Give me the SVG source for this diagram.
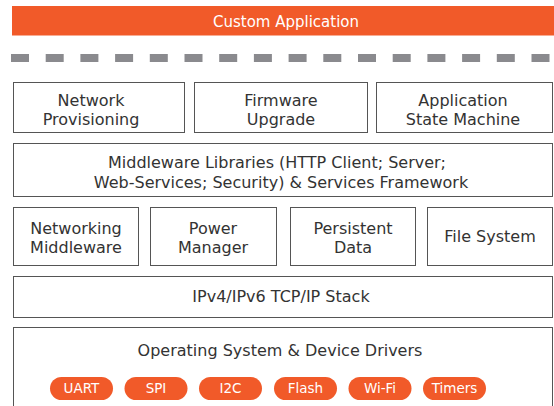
<svg xmlns="http://www.w3.org/2000/svg" width="554" height="406" viewBox="0 0 554 406">
<defs>
<style>
.box{fill:#fff;stroke:#555;stroke-width:1}
.t{font-family:"DejaVu Sans",Verdana,sans-serif;font-size:16px;fill:#333;text-anchor:middle}
.w{font-family:"DejaVu Sans",Verdana,sans-serif;font-size:13.5px;fill:#fff;text-anchor:middle}
.big{font-size:15px}
.pill{fill:#f15a29}
.dash{stroke:#8a8a8e;stroke-width:8;stroke-dasharray:18 16.7;fill:none}
</style>
</defs>
<rect width="554" height="406" fill="#fff"/>
<g id="custom-app">
<rect x="12" y="6" width="542" height="29.5" fill="#f15a29"/>
<text class="w big" x="286" y="27">Custom Application</text>
</g>
<g id="connectors">
<line class="dash" x1="11" y1="58" x2="554" y2="58"/>
</g>
<g id="network-provisioning">
<rect class="box" x="13.5" y="82.5" width="171" height="50"/>
<text class="t" x="91" y="106">Network</text>
<text class="t" x="91" y="125">Provisioning</text>
</g>
<g id="firmware-upgrade">
<rect class="box" x="194.5" y="82.5" width="173" height="50"/>
<text class="t" x="281" y="106">Firmware</text>
<text class="t" x="281" y="125">Upgrade</text>
</g>
<g id="app-state-machine">
<rect class="box" x="376.5" y="82.5" width="176" height="50"/>
<text class="t" x="463" y="106">Application</text>
<text class="t" x="463" y="125">State Machine</text>
</g>
<g id="middleware-libraries">
<rect class="box" x="13.5" y="143.5" width="539" height="53"/>
<text class="t" x="277" y="168">Middleware Libraries (HTTP Client; Server;</text>
<text class="t" x="281" y="188">Web-Services; Security) &amp; Services Framework</text>
</g>
<g id="networking-middleware">
<rect class="box" x="13.5" y="207.5" width="125" height="58"/>
<text class="t" x="76" y="234">Networking</text>
<text class="t" x="76" y="253">Middleware</text>
</g>
<g id="power-manager">
<rect class="box" x="150.5" y="207.5" width="126" height="58"/>
<text class="t" x="213" y="234">Power</text>
<text class="t" x="213" y="253">Manager</text>
</g>
<g id="persistent-data">
<rect class="box" x="290.5" y="207.5" width="125" height="58"/>
<text class="t" x="353" y="234">Persistent</text>
<text class="t" x="353" y="253">Data</text>
</g>
<g id="file-system">
<rect class="box" x="427.5" y="207.5" width="125" height="58"/>
<text class="t" x="490" y="242">File System</text>
</g>
<g id="tcpip-stack">
<rect class="box" x="13.5" y="276.5" width="539" height="41"/>
<text class="t" x="281" y="302">IPv4/IPv6 TCP/IP Stack</text>
</g>
<g id="os-drivers">
<rect class="box" x="13.5" y="327.5" width="539" height="90"/>
<text class="t" x="280" y="356">Operating System &amp; Device Drivers</text>
<rect class="pill" x="50" y="377" width="63" height="23" rx="11.5"/>
<text class="w" x="81.5" y="393">UART</text>
<rect class="pill" x="124.5" y="377" width="63" height="23" rx="11.5"/>
<text class="w" x="156" y="393">SPI</text>
<rect class="pill" x="199" y="377" width="63" height="23" rx="11.5"/>
<text class="w" x="230.5" y="393">I2C</text>
<rect class="pill" x="274" y="377" width="63" height="23" rx="11.5"/>
<text class="w" x="305.5" y="393">Flash</text>
<rect class="pill" x="348.5" y="377" width="63" height="23" rx="11.5"/>
<text class="w" x="380" y="393">Wi-Fi</text>
<rect class="pill" x="423" y="377" width="63" height="23" rx="11.5"/>
<text class="w" x="454.5" y="393">Timers</text>
</g>
</svg>
